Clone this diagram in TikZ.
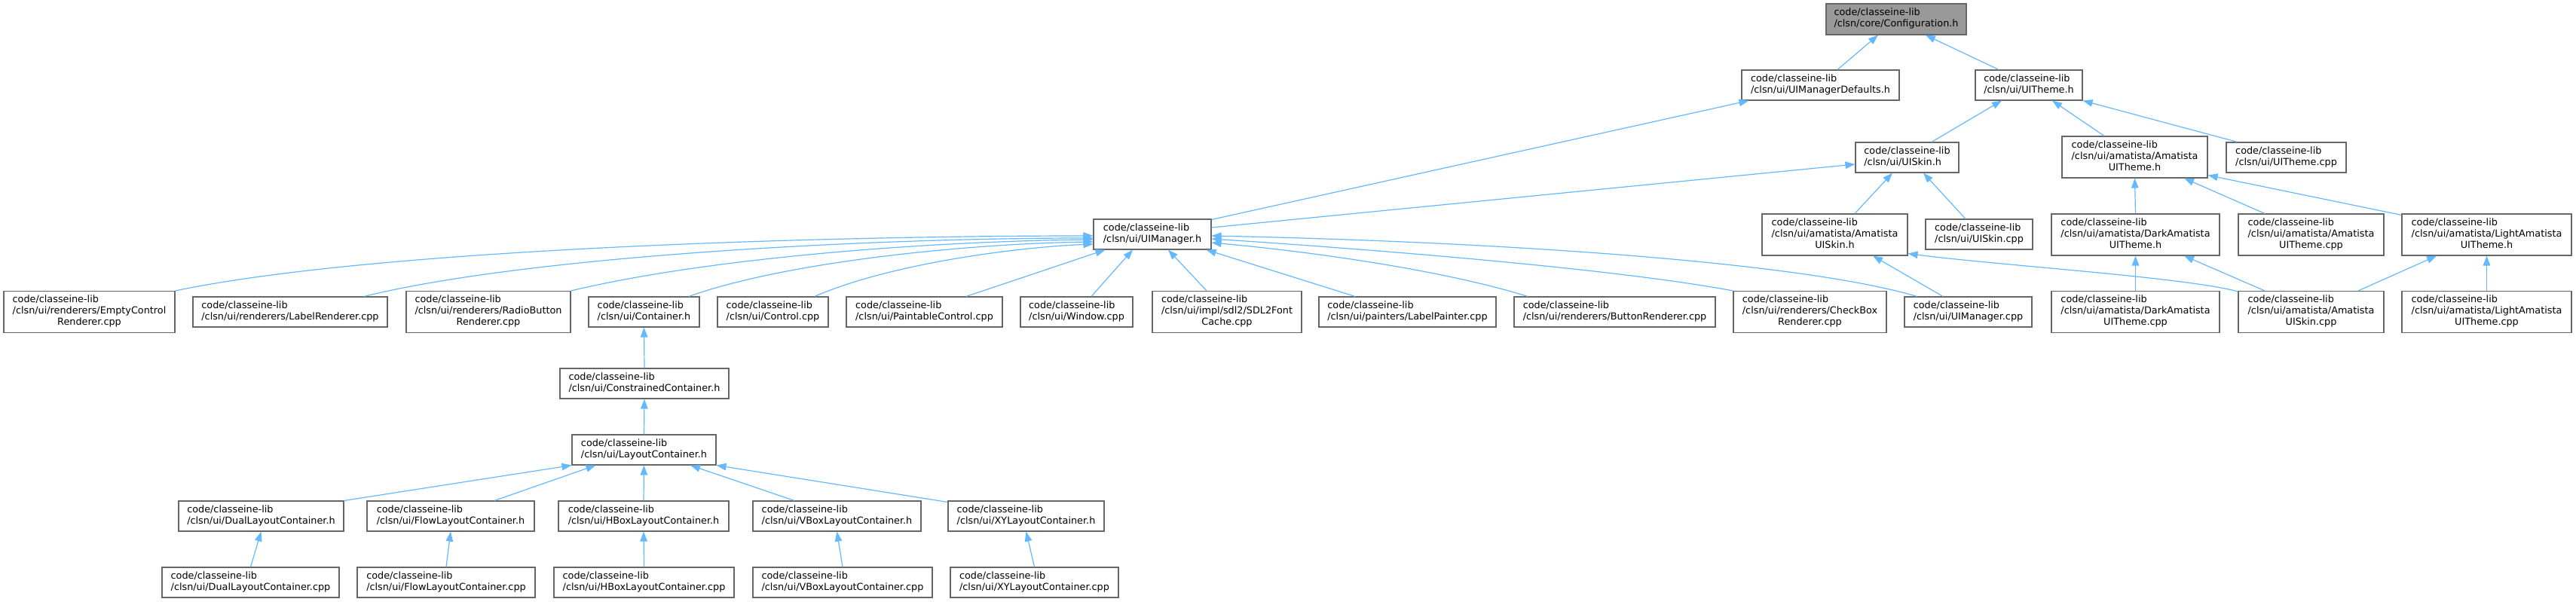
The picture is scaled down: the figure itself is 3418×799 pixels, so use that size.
\documentclass[tikz,border=0pt]{standalone}
\usepackage{fontspec}
\setmainfont{DejaVu Sans}
\usetikzlibrary{arrows.meta}
\definecolor{edgec}{HTML}{63B8FF}
\definecolor{bordc}{HTML}{666666}
\definecolor{rootc}{HTML}{999999}
\newcommand{\lbtwo}[1]{\begin{tabular}{@{}l@{}}code/classeine-lib\\#1\end{tabular}}
\newcommand{\lbthree}[2]{\begin{tabular}{@{}l@{}}code/classeine-lib\\#1\\\multicolumn{1}{@{}c@{}}{#2}\end{tabular}}
\newcommand{\bx}[7]{\node[#1, minimum width=#5pt, minimum height=#6pt] (#2) at (#3,#4) {#7};}
\begin{document}
\begin{tikzpicture}[x=1pt,y=-1pt,
  box/.style={draw=bordc, line width=1.1pt, fill=white, inner sep=0pt, font=\fontsize{12.8}{15}\selectfont},
  root/.style={box, fill=rootc},
  edge/.style={draw=edgec, line width=1.2pt, {Triangle[length=13pt,width=9.5pt]}-}]
\useasboundingbox (0,0) rectangle (3418,799);
% top part
\bx{root}{config}{2516}{25.5}{186}{41}{\lbtwo{/clsn/core/Configuration.h}}
\bx{box}{uimdef}{2415.5}{113}{209}{40}{\lbtwo{/clsn/ui/UIManagerDefaults.h}}
\bx{box}{uithemeh}{2692}{113}{142}{40}{\lbtwo{/clsn/ui/UITheme.h}}
\bx{box}{uiskinh}{2530.5}{209}{137}{40}{\lbtwo{/clsn/ui/UISkin.h}}
\bx{box}{amthemeh}{2832.5}{208.5}{193}{55}{\lbthree{/clsn/ui/amatista/Amatista}{UITheme.h}}
\bx{box}{uithemecpp}{3033.5}{209}{159}{40}{\lbtwo{/clsn/ui/UITheme.cpp}}
\bx{box}{uimgrh}{1529}{311}{156}{40}{\lbtwo{/clsn/ui/UIManager.h}}
\bx{box}{amskinh}{2434.5}{311.5}{193}{55}{\lbthree{/clsn/ui/amatista/Amatista}{UISkin.h}}
\bx{box}{uiskincpp}{2626}{311}{142}{40}{\lbtwo{/clsn/ui/UISkin.cpp}}
\bx{box}{darkthemeh}{2833.5}{311.5}{223}{55}{\lbthree{/clsn/ui/amatista/DarkAmatista}{UITheme.h}}
\bx{box}{amthemecpp}{3066.5}{311.5}{193}{55}{\lbthree{/clsn/ui/amatista/Amatista}{UITheme.cpp}}
\bx{box}{lightthemeh}{3299.5}{311.5}{225}{55}{\lbthree{/clsn/ui/amatista/LightAmatista}{UITheme.h}}
% row of users
\bx{box}{emptyctrl}{118.5}{414}{227}{55}{\lbthree{/clsn/ui/renderers/EmptyControl}{Renderer.cpp}}
\bx{box}{labelrend}{385}{414}{258}{40}{\lbtwo{/clsn/ui/renderers/LabelRenderer.cpp}}
\bx{box}{radiobtn}{648}{414}{218}{55}{\lbthree{/clsn/ui/renderers/RadioButton}{Renderer.cpp}}
\bx{box}{containerh}{854.5}{414}{147}{40}{\lbtwo{/clsn/ui/Container.h}}
\bx{box}{controlcpp}{1025.5}{414}{147}{40}{\lbtwo{/clsn/ui/Control.cpp}}
\bx{box}{paintable}{1226.5}{414}{207}{40}{\lbtwo{/clsn/ui/PaintableControl.cpp}}
\bx{box}{window}{1428.5}{414}{149}{40}{\lbtwo{/clsn/ui/Window.cpp}}
\bx{box}{sdlfont}{1628}{414}{198}{55}{\lbthree{/clsn/ui/impl/sdl2/SDL2Font}{Cache.cpp}}
\bx{box}{labelpainter}{1867.5}{414}{235}{40}{\lbtwo{/clsn/ui/painters/LabelPainter.cpp}}
\bx{box}{buttonrend}{2142.5}{414}{267}{40}{\lbtwo{/clsn/ui/renderers/ButtonRenderer.cpp}}
\bx{box}{checkbox}{2401.5}{414}{203}{55}{\lbthree{/clsn/ui/renderers/CheckBox}{Renderer.cpp}}
\bx{box}{uimgrcpp}{2611.5}{414}{169}{40}{\lbtwo{/clsn/ui/UIManager.cpp}}
\bx{box}{darkthemecpp}{2833.5}{414}{223}{55}{\lbthree{/clsn/ui/amatista/DarkAmatista}{UITheme.cpp}}
\bx{box}{amskincpp}{3066.5}{414}{193}{55}{\lbthree{/clsn/ui/amatista/Amatista}{UISkin.cpp}}
\bx{box}{lightthemecpp}{3299.5}{414}{225}{55}{\lbthree{/clsn/ui/amatista/LightAmatista}{UITheme.cpp}}
% container chain
\bx{box}{constrained}{855}{509}{224}{40}{\lbtwo{/clsn/ui/ConstrainedContainer.h}}
\bx{box}{layout}{854.5}{597}{191}{40}{\lbtwo{/clsn/ui/LayoutContainer.h}}
\bx{box}{dualh}{346.5}{685}{219}{40}{\lbtwo{/clsn/ui/DualLayoutContainer.h}}
\bx{box}{flowh}{598}{685}{222}{40}{\lbtwo{/clsn/ui/FlowLayoutContainer.h}}
\bx{box}{hboxh}{854}{685}{226}{40}{\lbtwo{/clsn/ui/HBoxLayoutContainer.h}}
\bx{box}{vboxh}{1110.5}{685}{223}{40}{\lbtwo{/clsn/ui/VBoxLayoutContainer.h}}
\bx{box}{xyh}{1361.5}{685}{207}{40}{\lbtwo{/clsn/ui/XYLayoutContainer.h}}
\bx{box}{dualcpp}{332.5}{773}{235}{40}{\lbtwo{/clsn/ui/DualLayoutContainer.cpp}}
\bx{box}{flowcpp}{592}{773}{236}{40}{\lbtwo{/clsn/ui/FlowLayoutContainer.cpp}}
\bx{box}{hboxcpp}{854.5}{773}{239}{40}{\lbtwo{/clsn/ui/HBoxLayoutContainer.cpp}}
\bx{box}{vboxcpp}{1118}{773}{238}{40}{\lbtwo{/clsn/ui/VBoxLayoutContainer.cpp}}
\bx{box}{xycpp}{1372.5}{773}{223}{40}{\lbtwo{/clsn/ui/XYLayoutContainer.cpp}}
% edges, top part
\draw[edge] ([xshift=-24pt]config.south) -- ([xshift=22.5pt]uimdef.north);
\draw[edge] ([xshift=39pt]config.south) -- ([xshift=-40pt]uithemeh.north);
\draw[edge] ([xshift=10pt]uimdef.south west) -- ([yshift=-1pt]uimgrh.north east);
\draw[edge] ([yshift=-9pt]uiskinh.west) -- ([yshift=9pt]uimgrh.east);
\draw[edge] ([xshift=-36pt]uithemeh.south) -- ([xshift=32.5pt]uiskinh.north);
\draw[edge] ([xshift=31pt]uithemeh.south) -- ([xshift=-40.5pt]amthemeh.north);
\draw[edge] (uithemeh.south east) -- ([xshift=15pt]uithemecpp.north west);
\draw[edge] ([xshift=-19.5pt]uiskinh.south) -- ([xshift=26.5pt]amskinh.north);
\draw[edge] ([xshift=21.5pt]uiskinh.south) -- ([xshift=-18pt]uiskincpp.north);
\draw[edge] (amthemeh.south) -- (darkthemeh.north);
\draw[edge] ([xshift=65.5pt]amthemeh.south) -- ([xshift=-61.5pt]amthemecpp.north);
\draw[edge] ([yshift=4pt]amthemeh.south east) -- ([yshift=-2pt]lightthemeh.north west);
\draw[edge] ([xshift=50.5pt]amskinh.south) -- ([xshift=-33.5pt]uimgrcpp.north);
\draw[edge] ([yshift=3pt]amskinh.south east) .. controls (2650,352) and (2900,368) .. ([yshift=-1pt]amskincpp.north west);
\draw[edge] (darkthemeh.south) -- (darkthemecpp.north);
\draw[edge] ([xshift=64.5pt]darkthemeh.south) -- ([xshift=-61.5pt]amskincpp.north);
\draw[edge] ([xshift=-66.5pt]lightthemeh.south) -- ([xshift=62.5pt]amskincpp.north);
\draw[edge] (lightthemeh.south) -- (lightthemecpp.north);
% edges into UIManager.h
\draw[edge] ([yshift=-2pt]uimgrh.west) .. controls (1100,313) and (500,330) .. (emptyctrl.north east);
\draw[edge] ([yshift=-5pt]uimgrh.west) .. controls (1150,316) and (700,340) .. ([xshift=98pt]labelrend.north);
\draw[edge] ([yshift=-7pt]uimgrh.west) .. controls (1250,320) and (950,340) .. (radiobtn.north east);
\draw[edge] ([yshift=-10pt]uimgrh.west) .. controls (1300,323) and (1050,345) .. ([xshift=59.5pt]containerh.north);
\draw[edge] ([yshift=-13pt]uimgrh.west) .. controls (1350,328) and (1180,350) .. ([xshift=55.5pt]controlcpp.north);
\draw[edge] ([xshift=16pt]uimgrh.south west) -- ([xshift=55.5pt]paintable.north);
\draw[edge] ([xshift=-26pt]uimgrh.south) -- ([xshift=19.5pt]window.north);
\draw[edge] ([xshift=21pt]uimgrh.south) -- ([xshift=-27pt]sdlfont.north);
\draw[edge] ([xshift=-7pt]uimgrh.south east) -- ([xshift=-69.5pt]labelpainter.north);
\draw[edge] ([yshift=-11pt]uimgrh.east) .. controls (1750,335) and (1920,360) .. ([xshift=-115.5pt]buttonrend.north);
\draw[edge] ([yshift=-6pt]uimgrh.east) .. controls (1850,333) and (2150,358) .. (checkbox.north west);
\draw[edge] ([yshift=-2pt]uimgrh.east) .. controls (1950,320) and (2380,345) .. ([xshift=17pt]uimgrcpp.north west);
% container chain edges
\draw[edge] (containerh.south) -- (constrained.north);
\draw[edge] (constrained.south) -- (layout.north);
\draw[edge] (layout.south west) -- (dualh.north east);
\draw[edge] ([xshift=32pt]layout.south west) -- ([xshift=58pt]flowh.north);
\draw[edge] (layout.south) -- (hboxh.north);
\draw[edge] ([xshift=61.5pt]layout.south) -- ([xshift=-56.5pt]vboxh.north);
\draw[edge] (layout.south east) -- ([yshift=-2pt]xyh.north west);
\draw[edge] (dualh.south) -- (dualcpp.north);
\draw[edge] (flowh.south) -- (flowcpp.north);
\draw[edge] (hboxh.south) -- (hboxcpp.north);
\draw[edge] (vboxh.south) -- (vboxcpp.north);
\draw[edge] (xyh.south) -- (xycpp.north);
\end{tikzpicture}
\end{document}
